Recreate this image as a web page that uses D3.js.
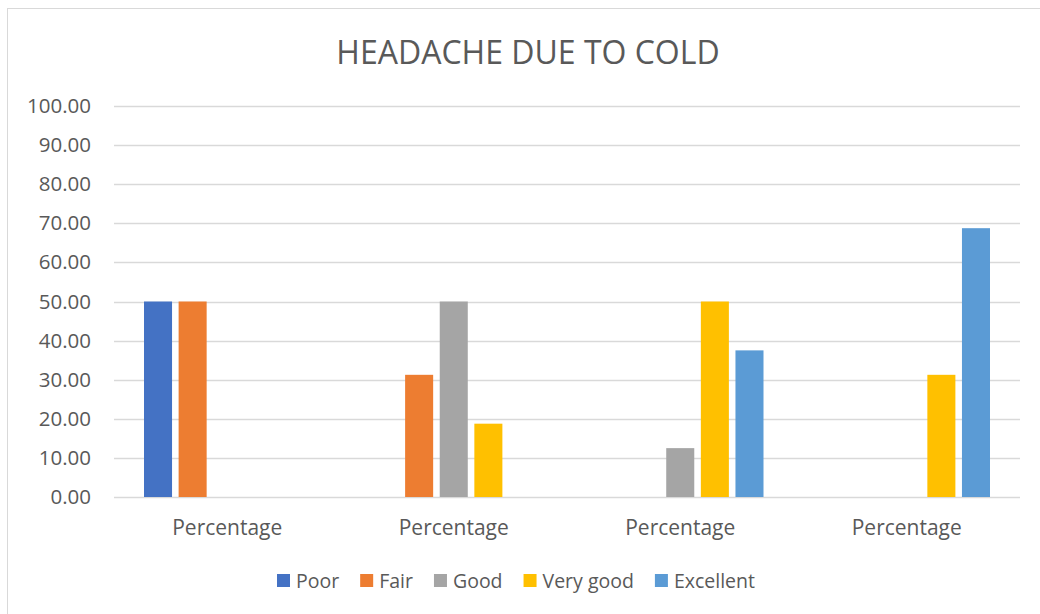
<!DOCTYPE html>
<html>
<head>
<meta charset="utf-8">
<script src="https://cdn.jsdelivr.net/npm/d3@7"></script>
<style>
  body { margin: 0; background: #fff; }
  svg { display: block; font-family: "Open Sans", "Noto Sans", sans-serif; }
</style>
</head>
<body>
<svg id="chart"></svg>
<script>
const groups = ["g1", "g2", "g3", "g4"];
const groupLabels = ["Percentage", "Percentage", "Percentage", "Percentage"];
const seriesNames = ["Poor", "Fair", "Good", "Very good", "Excellent"];
const poor = [50, 0, 0, 0];
const fair = [50, 31.25, 0, 0];
const good = [0, 50, 12.5, 0];
const veryGood = [0, 18.75, 50, 31.25];
const excellent = [0, 0, 37.5, 68.75];
const yTicks = [0, 10, 20, 30, 40, 50, 60, 70, 80, 90, 100];

const colors = ["#4472C4", "#ED7D31", "#A5A5A5", "#FFC000", "#5B9BD5"];
const seriesValues = [poor, fair, good, veryGood, excellent];

function createChart() {
    const width = 1040;
    const height = 614;
    const margin = { top: 106, right: 20, bottom: 117, left: 114 };

    const svg = d3.select('#chart')
                  .attr('width', width)
                  .attr('height', height);

    // chart frame (right and bottom edges run off the picture)
    svg.append('rect')
       .attr('x', 7.5).attr('y', 8.5)
       .attr('width', 1100).attr('height', 700)
       .attr('fill', 'none')
       .attr('stroke', '#d9d9d9')
       .attr('stroke-width', 1);

    const x0 = d3.scaleBand()
                 .domain(groups)
                 .range([margin.left, width - margin.right]);

    const x1 = d3.scaleBand()
                 .domain(seriesNames)
                 .range([30, x0.bandwidth() - 30])
                 .paddingInner(0.19);

    const y = d3.scaleLinear()
                .domain([0, 100])
                .range([height - margin.bottom, margin.top]);

    // gridlines
    svg.append('g')
       .selectAll('line')
       .data(yTicks)
       .enter()
       .append('line')
       .attr('x1', margin.left)
       .attr('x2', width - margin.right)
       .attr('y1', d => Math.round(y(d)) + 0.5)
       .attr('y2', d => Math.round(y(d)) + 0.5)
       .attr('stroke', '#d9d9d9')
       .attr('stroke-width', 1.5);

    // y axis labels
    const yAxis = svg.append('g')
       .attr('transform', `translate(${margin.left - 23}, 0)`)
       .call(d3.axisLeft(y).tickValues(yTicks).tickFormat(d3.format('.2f')).tickSize(0).tickPadding(0));
    yAxis.select('.domain').remove();
    yAxis.selectAll('text')
         .attr('fill', '#595959')
         .style('font-size', '20.5px')
         .style('font-family', '"Open Sans", sans-serif');

    // bars
    const rows = groups.map((g, i) => ({
        group: g,
        values: seriesNames.map((s, j) => ({ series: s, idx: j, value: seriesValues[j][i] }))
    }));

    const gGroups = svg.append('g')
       .selectAll('g')
       .data(rows)
       .enter()
       .append('g')
       .attr('transform', d => `translate(${x0(d.group)}, 0)`);

    gGroups.selectAll('rect')
       .data(d => d.values.filter(v => v.value > 0))
       .enter()
       .append('rect')
       .attr('x', d => x1(d.series))
       .attr('y', d => y(d.value))
       .attr('width', x1.bandwidth())
       .attr('height', d => y(0) - y(d.value))
       .attr('fill', d => colors[d.idx]);

    // x axis labels
    const xAxis = svg.append('g')
       .attr('transform', `translate(0, ${height - margin.bottom})`)
       .call(d3.axisBottom(x0).tickFormat((d, i) => groupLabels[i]).tickSize(0).tickPadding(23));
    xAxis.select('.domain').remove();
    xAxis.selectAll('text')
         .attr('fill', '#595959')
         .style('font-size', '21px')
         .style('font-family', '"Open Sans", sans-serif');

    // title
    svg.append('text')
       .attr('x', 528)
       .attr('y', 64)
       .attr('text-anchor', 'middle')
       .attr('fill', '#595959')
       .style('font-size', '32px')
       .text('HEADACHE DUE TO COLD');

    // legend
    const legend = svg.append('g').attr('transform', 'translate(0, 581)');
    let lx = 277;
    seriesNames.forEach((name, i) => {
        legend.append('rect')
              .attr('x', lx)
              .attr('y', -7)
              .attr('width', 13)
              .attr('height', 13)
              .attr('fill', colors[i]);
        const t = legend.append('text')
              .attr('x', lx + 19)
              .attr('y', 7)
              .attr('fill', '#595959')
              .style('font-size', '19.5px')
              .text(name);
        lx += 19 + t.node().getComputedTextLength() + 21;
    });
}

createChart();
</script>
</body>
</html>
